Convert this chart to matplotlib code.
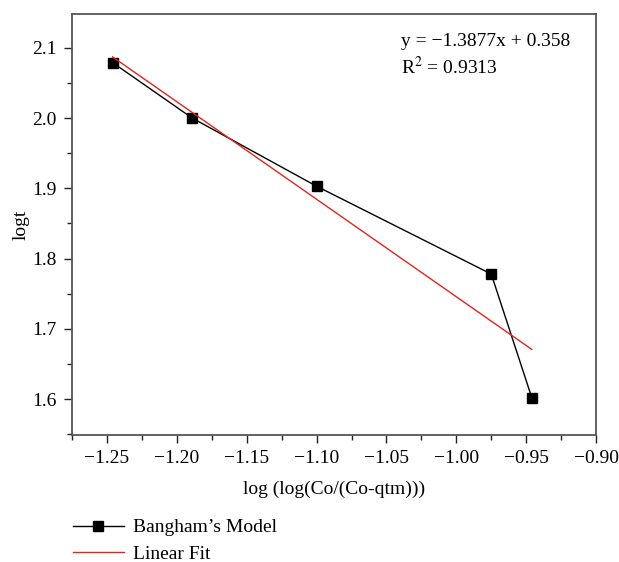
import numpy as np
import matplotlib.pyplot as plt
from matplotlib.ticker import MultipleLocator

plt.rcParams['font.family'] = ['Liberation Serif', 'DejaVu Serif']
plt.rcParams['mathtext.fontset'] = 'stix'

# Bangham's model points
x_data = [-1.246, -1.189, -1.100, -0.975, -0.946]
y_data = [2.079, 2.000, 1.903, 1.778, 1.602]

# linear fit shown on the chart
fit_slope = -1.3877
fit_intercept = 0.358
fit_r2 = 0.9313

xticks = [-1.25, -1.20, -1.15, -1.10, -1.05, -1.00, -0.95, -0.90]
yticks = [1.6, 1.7, 1.8, 1.9, 2.0, 2.1]

fig = plt.figure(figsize=(6.19, 5.62), dpi=100)
ax = fig.add_axes([0.1163, 0.226, 0.8467, 0.749])

xf = np.array([x_data[0], x_data[-1]])
l1, = ax.plot(x_data, y_data, color='black', lw=1, marker='s', ms=7,
              label="Bangham’s Model")
l2, = ax.plot(xf, fit_slope*xf + fit_intercept, color='#e8221b', lw=1,
              label='Linear Fit')

ax.set_xlim(-1.275, -0.90)
ax.set_ylim(1.549, 2.148)
ax.set_xticks(xticks)
ax.set_xticklabels(['\u2212%.2f' % abs(v) for v in xticks])
ax.set_yticks(yticks)
ax.set_yticklabels(['%.1f' % v for v in yticks])
ax.xaxis.set_minor_locator(MultipleLocator(0.025))
ax.yaxis.set_minor_locator(MultipleLocator(0.05))
ax.tick_params(which='major', direction='out', length=6, width=1, labelsize=14,
               color='#222222', top=False, right=False, pad=5)
ax.tick_params(which='minor', direction='out', length=3.5, width=1,
               color='#222222', top=False, right=False)
for s in ax.spines.values():
    s.set_color('#555555')
    s.set_linewidth(1.3)

ax.set_xlabel('log (log(Co/(Co-qtm)))', fontsize=14, labelpad=10)
ax.set_ylabel('logt', fontsize=14, labelpad=2)

ax.text(0.628, 0.935, 'y = \u22121.3877x + 0.358', transform=ax.transAxes,
        fontsize=14, va='center')
ax.text(0.628, 0.875, 'R$^2$ = %.4f' % fit_r2, transform=ax.transAxes,
        fontsize=14, va='center')

fig.legend(handles=[l1, l2], loc='upper left', bbox_to_anchor=(0.118, 0.077),
           frameon=False, fontsize=14, handlelength=2.6, handletextpad=0.5,
           labelspacing=0.45, borderaxespad=0, borderpad=0)

fig.savefig('out.png', dpi=100)
